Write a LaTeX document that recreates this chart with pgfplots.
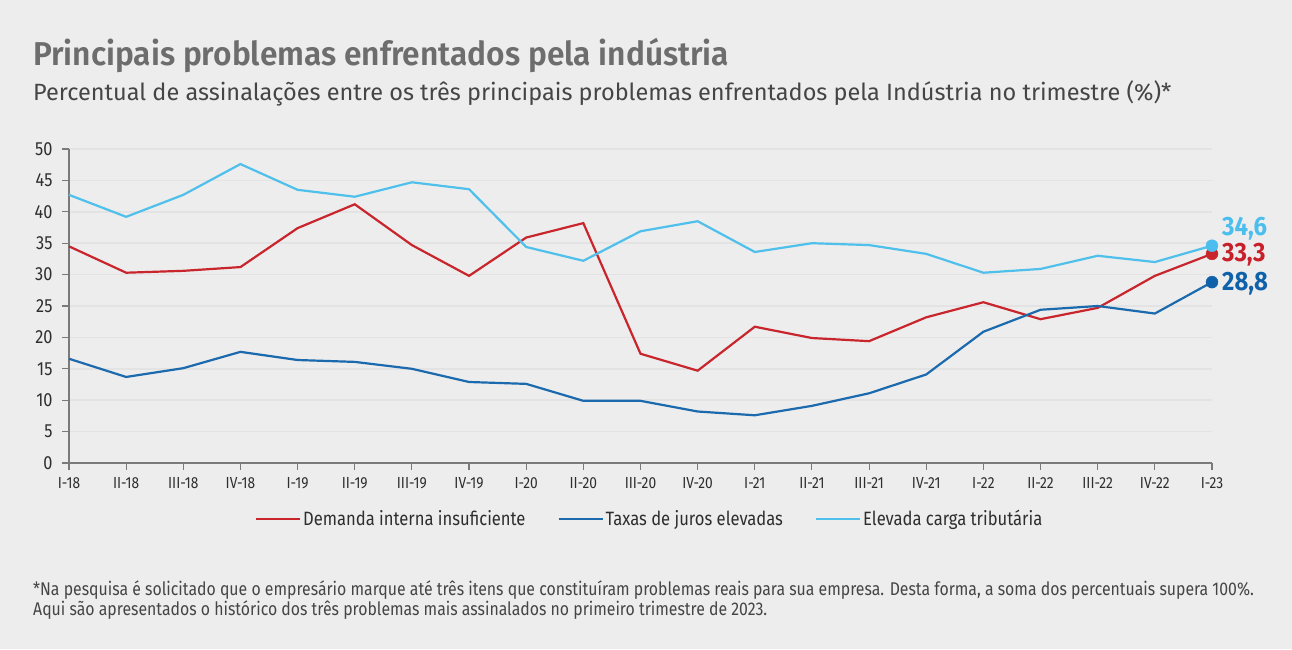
\documentclass[border=0pt]{standalone}
\usepackage{fontspec}
\setmainfont{Fira Sans}[FakeStretch=0.86]
\newfontfamily\titlefont{Fira Sans SemiBold}[FakeStretch=0.96]
\newfontfamily\subfont{Fira Sans}
\newfontfamily\endfont{Fira Sans}[FakeStretch=0.9]
\usepackage{pgfplots}
\pgfplotsset{compat=1.18}
\usepackage{pgfplotstable}

\definecolor{bg}{HTML}{EDEDED}
\definecolor{gridc}{HTML}{E3E3E3}
\definecolor{axisc}{HTML}{7A7A7A}
\definecolor{labelc}{HTML}{2E2E2E}
\definecolor{titlec}{HTML}{6D6D6D}
\definecolor{subc}{HTML}{454545}
\definecolor{cred}{HTML}{C9252C}
\definecolor{cblue}{HTML}{1C6AAE}
\definecolor{clight}{HTML}{4FC0EC}
\definecolor{lred}{HTML}{C8202A}
\definecolor{lblue}{HTML}{0F62AA}
\definecolor{llight}{HTML}{4BBEEE}

\pgfplotstableread{
x y
0 34.5
1 30.3
2 30.6
3 31.2
4 37.4
5 41.2
6 34.7
7 29.8
8 35.9
9 38.2
10 17.4
11 14.7
12 21.7
13 19.9
14 19.4
15 23.2
16 25.6
17 22.9
18 24.7
19 29.8
20 33.3
}\demanda

\pgfplotstableread{
x y
0 16.6
1 13.7
2 15.1
3 17.7
4 16.4
5 16.1
6 15.0
7 12.9
8 12.6
9 9.9
10 9.9
11 8.2
12 7.6
13 9.1
14 11.1
15 14.1
16 20.9
17 24.4
18 25.0
19 23.8
20 28.8
}\juros

\pgfplotstableread{
x y
0 42.7
1 39.2
2 42.7
3 47.6
4 43.5
5 42.4
6 44.7
7 43.6
8 34.4
9 32.2
10 36.9
11 38.5
12 33.6
13 35.0
14 34.7
15 33.3
16 30.3
17 30.9
18 33.0
19 32.0
20 34.6
}\carga

\begin{document}
\begin{tikzpicture}
\useasboundingbox (0,0) rectangle (1292pt,649pt);
\fill[bg] (0,0) rectangle (1292pt,649pt);
\node[anchor=base west, inner sep=0, text=titlec, font=\titlefont\fontsize{33}{40}\selectfont] at (33pt,583pt) {Principais problemas enfrentados pela indústria};
\node[anchor=base west, inner sep=0, text=subc, font=\subfont\fontsize{23.5}{28}\selectfont] at (33pt,548pt) {Percentual de assinalações entre os três principais problemas enfrentados pela Indústria no trimestre (\%)*};
\node[anchor=base west, inner sep=0, text=subc, font=\fontsize{18.4}{20}\selectfont] at (33pt,54pt) {*Na pesquisa é solicitado que o empresário marque até três itens que constituíram problemas reais para sua empresa. Desta forma, a soma dos percentuais supera 100\%.};
\node[anchor=base west, inner sep=0, text=subc, font=\fontsize{18.4}{20}\selectfont] at (33pt,34pt) {Aqui são apresentados o histórico dos três problemas mais assinalados no primeiro trimestre de 2023.};

\begin{axis}[
  at={(69pt,186pt)}, anchor=south west,
  scale only axis, width=1143pt, height=314pt,
  xmin=0, xmax=20, ymin=0, ymax=50,
  axis x line*=bottom, axis y line*=left,
  axis line style={draw=axisc, line width=1.3pt, -},
  xtick={0,...,20},
  xticklabels={I-18,II-18,III-18,IV-18,I-19,II-19,III-19,IV-19,I-20,II-20,III-20,IV-20,I-21,II-21,III-21,IV-21,I-22,II-22,III-22,IV-22,I-23},
  ytick={0,5,...,50},
  tick align=outside, major tick length=7pt,
  tick style={draw=axisc, line width=1.1pt},
  ymajorgrids, grid style={draw=gridc, line width=1.6pt},
  /pgf/number format/assume math mode=true,
  x tick label style={font=\fontsize{16}{18}\selectfont, text=labelc, yshift=-4pt},
  y tick label style={font=\fontsize{19}{20}\selectfont, text=labelc, xshift=-6pt},
  clip=false,
  legend style={at={(0.508,-0.178)}, anchor=center, draw=none, fill=none,
    legend columns=3, font=\fontsize{19.3}{22}\selectfont, text=labelc,
    /tikz/every even column/.append style={column sep=30pt}},
  legend image code/.code={\draw[#1] (0pt,0pt) -- (44pt,0pt);},
]
\addplot[cred, line width=2.2pt] table[x=x,y=y]{\demanda};
\addlegendentry{Demanda interna insuficiente}
\addplot[cblue, line width=2.2pt] table[x=x,y=y]{\juros};
\addlegendentry{Taxas de juros elevadas}
\addplot[clight, line width=2.2pt] table[x=x,y=y]{\carga};
\addlegendentry{Elevada carga tributária}

\addplot[forget plot, only marks, mark=*, mark size=6pt, cred, mark options={draw=cred, fill=cred}] coordinates {(20,33.3)};
\addplot[forget plot, only marks, mark=*, mark size=6pt, cblue, mark options={draw=lblue, fill=lblue}] coordinates {(20,28.8)};
\addplot[forget plot, only marks, mark=*, mark size=6pt, clight, mark options={draw=llight, fill=llight}] coordinates {(20,34.6)};

\node[anchor=west, inner sep=0, xshift=10pt, yshift=17pt, text=llight, font=\endfont\bfseries\fontsize{26.5}{30}\selectfont] at (axis cs:20,34.6) {34,6};
\node[anchor=west, inner sep=0, xshift=10pt, yshift=-1pt, text=lred, font=\endfont\bfseries\fontsize{26.5}{30}\selectfont] at (axis cs:20,33.3) {33,3};
\node[anchor=west, inner sep=0, xshift=10pt, yshift=-2pt, text=lblue, font=\endfont\bfseries\fontsize{26.5}{30}\selectfont] at (axis cs:20,28.8) {28,8};
\end{axis}
\end{tikzpicture}
\end{document}
